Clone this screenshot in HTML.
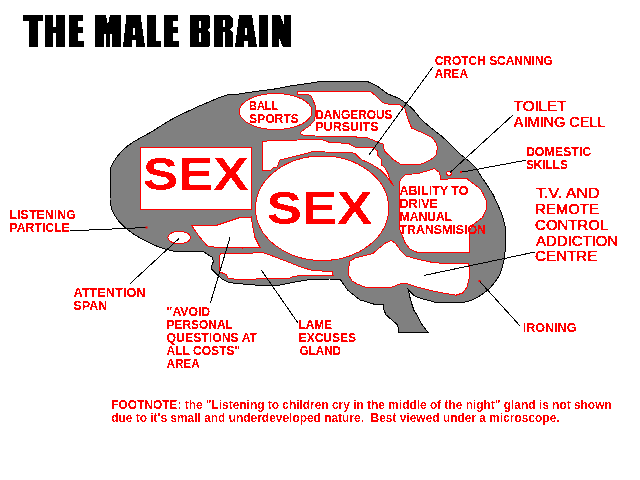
<!DOCTYPE html>
<html><head><meta charset="utf-8"><title>The Male Brain</title>
<style>
html,body{margin:0;padding:0;background:#fff;width:640px;height:480px;overflow:hidden}
svg{display:block}
.b{font-family:"Liberation Sans",sans-serif;font-weight:bold;fill:#f00}
.s{font-family:"Liberation Sans",sans-serif;font-weight:bold;fill:#f00;stroke:#f00;stroke-width:0.12px}
.r{font-family:"Liberation Sans",sans-serif;font-weight:normal;fill:#f00;stroke:#f00;stroke-width:0.45px}
</style></head><body>
<svg width="640" height="480" viewBox="0 0 640 480">
<rect width="640" height="480" fill="#fff"/>
<!-- TITLE -->
<g fill="#000" shape-rendering="crispEdges">
<!-- T -->
<polygon points="23,15 43,15 43,21 38,21 38,47 29,47 29,21 23,21"/>
<!-- H -->
<polygon points="45,15 53,15 53,27 56,27 56,15 65,15 65,47 56,47 56,33 53,33 53,47 45,47"/>
<!-- E -->
<polygon points="69,15 83,15 83,21 77.5,21 77.5,27 83,27 83,33 77.5,33 77.5,41 84,41 84,47 69,47"/>
<!-- M -->
<polygon points="95,15 106,15 108,25 110,15 121,15 121,47 112,47 112,34 110,34 110,47 106,47 106,34 104,34 104,47 95,47"/>
<!-- A -->
<polygon points="126.5,15 140.5,15 145,47 136,47 136,40 132,40 132,47 123,47"/>
<polygon fill="#fff" points="133,28 135,28 135,35 133,35"/>
<!-- L -->
<polygon points="147,15 156,15 156,41 161,41 161,47 147,47"/>
<!-- E -->
<polygon points="164,15 178,15 178,21 172.5,21 172.5,27 178,27 178,33 172.5,33 172.5,41 179,41 179,47 164,47"/>
<!-- B -->
<polygon points="190,15 208,15 210,17 210,27 207,30 210,33 210,45 208,47 190,47"/>
<polygon fill="#fff" points="199,20.5 201,20.5 201,28 199,28"/>
<polygon fill="#fff" points="199,32.5 201,32.5 201,42 199,42"/>
<!-- R -->
<polygon points="214,15 229,15 233,18.5 233,27 230,29.5 233,32.5 233,47 225,47 225,31.7 223,31.7 223,47 214,47"/>
<polygon fill="#fff" points="223,20 225,20 225,27 223,27"/>
<!-- A -->
<polygon points="239,15 252,15 257,47 248,47 248,41 244,41 244,47 235,47"/>
<polygon fill="#fff" points="245,28 247,28 247,35 245,35"/>
<!-- I -->
<polygon points="259,15 268,15 268,47 259,47"/>
<!-- N -->
<polygon points="272,15 280,15 284,25 284,15 291,15 291,47 283,47 279,38 279,47 272,47"/>
</g>

<!-- BRAIN -->
<polygon fill="#808080" stroke="#000" stroke-width="1" shape-rendering="crispEdges" points="110,200 110.5,168.1 113.75,161.6 117.5,156 122.5,150.6 127.5,146 133.4,141.9 143,136.5 153.1,131 161,125.8 170.6,120 179,115.5 188.1,111.25 197,107 207.8,102.5 218,98 229.7,94.2 236,94.4 254.75,91.6 273.5,89.2 290,86 317.5,82 340,81 366,81 371,83 376,85.5 380,88 387.5,93.75 399,98.4 406.9,103.9 413.1,109.4 419.4,117.2 425.6,123.4 433.4,129.7 441.25,135.9 450,143.75 461.25,155 470,162 476.25,168 480.6,175.6 487,185 493,194.4 498,205 502.5,216 505,226 505.6,235 505.6,247.5 504,260 502,268 499.4,275.6 495,282 490,288 484,293 477.5,297.5 471,300.5 465,302 449.4,302 435,302.2 426.5,299.9 418.5,297.6 413.9,295.3 408.2,289.6 409.4,295.3 411.6,303.3 413.9,310.2 417.4,315.9 420.8,322.8 427.7,332 398.5,332 397.9,325.6 394.5,322.2 389.9,318.2 385.9,314.8 383.6,309 383,304.5 375,304.5 366.25,301.7 360,300 355,296 347.5,290 340,279 330,279 310,279.5 292.5,282.5 280,285 255,285 235,283.3 228.3,282.1 222.5,279.2 218.3,275.8 215,272.5 211.7,269.2 211.7,265.8 213.3,261.7 212.5,257.5 205.8,253.3 203.3,251.5 198.75,251.5 183.75,251.6 172.5,251 165,249.1 153.75,245 142.5,239.4 133.1,233.75 125.6,228.1 119,221.6 114.4,215 111.6,209.4"/>

<g fill="#fff" stroke="#f00" stroke-width="1" shape-rendering="crispEdges">
<!-- ball sports -->
<ellipse cx="275.7" cy="111.5" rx="36.3" ry="18"/>
<!-- dangerous pursuits -->
<polygon points="297.4,91 370,91 376,96 382.5,102.5 390,104.5 400,105 405,109 407.5,117.5 411.6,128.1 422.5,132.8 431.9,137.5 436.6,143.75 437.5,148 436,155 431.9,158.75 425.3,162.5 419.7,164.4 401,164.4 393.4,159.7 388.75,155 384.4,151 383.3,144.2 378.7,142.5 366,137.3 350,136.8 315,136 305.8,135.4 301.3,134.8 300.6,132.2 303.9,129.6 309.7,125.7 314.2,120.6 315.5,115.4 315.5,106.4 313.5,101.2 311,96 307.7,94.1 297.4,94.1"/>
<!-- strip -->
<polygon points="262,141.25 278.4,140.5 309.7,139.7 322.2,139.7 328.4,142 348.75,143.6 354.6,147 373,147.6 377.5,151 378,155.6 381,159.1 381,164.8 384.4,167.1 387.8,172.8 390,179.7 393.6,186 386.7,176.3 379.8,169.4 370.6,163.7 361.5,159.7 354.6,153.3 350,152.2 311.25,151.9 308,153 298.75,155.3 286.25,158.4 280,160 278.4,163.9 276.9,167 273,167.8 270.6,170.2 262,170.2"/>
<!-- sex circle -->
<ellipse cx="322.1" cy="208.25" rx="66.6" ry="52.25"/>
<!-- sex box -->
<rect x="140.5" y="147.5" width="111" height="62"/>
<!-- ability -->
<polygon points="399,183.1 401.4,178.4 404.7,175.2 408.4,174.2 417.8,173.75 425.3,171.4 431.9,169.5 434.7,168.6 436.1,170 439.4,172.3 440.3,175.6 440.8,179.4 448,179 466.9,178.4 468.75,180.3 472.5,183 480,188.75 482.5,192.5 486,200 486,210 482.5,217.5 472.5,225 469,232.5 469,252.5 455,252.5 430,252.5 417.5,252.5 410,249 405,242.5 400,230 399,212.5"/>
<!-- attention -->
<ellipse cx="179.25" cy="237.5" rx="11.25" ry="6.25"/>
<!-- avoid -->
<polygon points="191.25,225 217.5,225 232.5,220 240,217.5 251.25,217 252.5,225 255,237.5 260,247.5 242.5,248 217.5,247.5 207.5,246 200,237.5 193.75,228.75"/>
<!-- lame -->
<polygon points="219.2,255.8 220.8,253.75 223.3,253.3 263.3,252.9 270.3,255.2 279.7,258.75 289,262.3 300.8,267 312.5,270.5 332.4,271.6 333.1,275.2 300.8,275.6 293.75,276.3 289,278.7 235,279.2 228.3,278.3 226.7,275 223.3,273.3 219.2,271.7"/>
<!-- tv -->
<polygon points="348.75,267.8 349.8,261.25 355.3,258 364,255.8 372.8,253.6 380.5,247 386,242.7 391.4,240.5 395.8,243.75 401.25,251.4 405.6,255.8 416.6,259 431.9,262.3 442.8,263.4 468,263.4 469,265.6 469,278.75 466.9,287.5 462.5,293 456,295.2 442.8,293 431.9,290.8 418.75,287.5 412.2,285.3 405.6,283.1 399,284.2 392.5,287 383.75,288 366.25,287.5 357.5,284.2 352,281 348.75,275.5"/>
<!-- domestic -->
<circle cx="449" cy="173.3" r="2.3"/>
</g>

<!-- pointer lines -->
<g stroke="#000" stroke-width="1" fill="none" shape-rendering="crispEdges">
<line x1="432.5" y1="67.5" x2="369" y2="155"/>
<line x1="513" y1="115" x2="450" y2="172.5"/>
<line x1="525.6" y1="160.3" x2="460.8" y2="172.3"/>
<polyline points="70,230 88.75,230 146.5,227.5"/>
<line x1="130" y1="283.75" x2="178.75" y2="238.75"/>
<line x1="210.25" y1="303.4" x2="230" y2="237.5"/>
<line x1="298" y1="323" x2="261.25" y2="270"/>
<line x1="535" y1="252" x2="423.75" y2="275.5"/>
<line x1="519.7" y1="325.6" x2="479.4" y2="281"/>
</g>
<g fill="#f00">
<rect x="145.5" y="226.5" width="2" height="2"/>
<rect x="460" y="171" width="2" height="2"/>
<rect x="478.5" y="280" width="2" height="2"/>
</g>

<!-- TEXT -->
<defs><filter id="cr" x="0" y="0" width="640" height="480" filterUnits="userSpaceOnUse"><feComponentTransfer><feFuncA type="discrete" tableValues="0 1"/></feComponentTransfer></filter></defs>
<g filter="url(#cr)">
<text class="b" font-size="47" x="143.00" y="190.00" textLength="105.50" lengthAdjust="spacingAndGlyphs">SEX</text>
<text class="b" font-size="47" x="266.75" y="224.00" textLength="105.50" lengthAdjust="spacingAndGlyphs">SEX</text>
<text class="s" font-size="12.5" x="249.00" y="110.00" textLength="29.20" lengthAdjust="spacingAndGlyphs">BALL</text>
<text class="s" font-size="12.5" x="249.00" y="122.60" textLength="49.90" lengthAdjust="spacingAndGlyphs">SPORTS</text>
<text class="s" font-size="12.5" x="315.25" y="118.75" textLength="77.25" lengthAdjust="spacingAndGlyphs">DANGEROUS</text>
<text class="s" font-size="12.5" x="315.25" y="131.25" textLength="63.25" lengthAdjust="spacingAndGlyphs">PURSUITS</text>
<text class="s" font-size="12.5" x="434.70" y="65.00" textLength="118.20" lengthAdjust="spacingAndGlyphs">CROTCH SCANNING</text>
<text class="s" font-size="12.5" x="434.70" y="77.50" textLength="33.20" lengthAdjust="spacingAndGlyphs">AREA</text>
<text class="s" font-size="12.5" x="525.90" y="156.25" textLength="65.40" lengthAdjust="spacingAndGlyphs">DOMESTIC</text>
<text class="s" font-size="12.5" x="525.90" y="169.00" textLength="42.00" lengthAdjust="spacingAndGlyphs">SKILLS</text>
<text class="s" font-size="12.5" x="399.50" y="195.00" textLength="69.00" lengthAdjust="spacingAndGlyphs">ABILITY TO</text>
<text class="s" font-size="12.5" x="399.50" y="208.00" textLength="38.50" lengthAdjust="spacingAndGlyphs">DRIVE</text>
<text class="s" font-size="12.5" x="399.50" y="220.75" textLength="52.75" lengthAdjust="spacingAndGlyphs">MANUAL</text>
<text class="s" font-size="12.5" x="399.50" y="233.50" textLength="86.50" lengthAdjust="spacingAndGlyphs">TRANSMISION</text>
<text class="s" font-size="12.5" x="9.50" y="218.75" textLength="66.50" lengthAdjust="spacingAndGlyphs">LISTENING</text>
<text class="s" font-size="12.5" x="9.50" y="231.75" textLength="60.25" lengthAdjust="spacingAndGlyphs">PARTICLE</text>
<text class="s" font-size="12.5" x="73.50" y="296.75" textLength="72.00" lengthAdjust="spacingAndGlyphs">ATTENTION</text>
<text class="s" font-size="12.5" x="73.50" y="310.00" textLength="33.75" lengthAdjust="spacingAndGlyphs">SPAN</text>
<text class="s" font-size="12.5" x="166.60" y="315.60" textLength="43.50" lengthAdjust="spacingAndGlyphs">&quot;AVOID</text>
<text class="s" font-size="12.5" x="166.60" y="328.75" textLength="66.20" lengthAdjust="spacingAndGlyphs">PERSONAL</text>
<text class="s" font-size="12.5" x="166.60" y="341.90" textLength="90.50" lengthAdjust="spacingAndGlyphs">QUESTIONS AT</text>
<text class="s" font-size="12.5" x="166.60" y="354.60" textLength="73.50" lengthAdjust="spacingAndGlyphs">ALL COSTS&quot;</text>
<text class="s" font-size="12.5" x="166.60" y="367.75" textLength="33.20" lengthAdjust="spacingAndGlyphs">AREA</text>
<text class="s" font-size="12.5" x="298.70" y="328.50" textLength="33.30" lengthAdjust="spacingAndGlyphs">LAME</text>
<text class="s" font-size="12.5" x="298.70" y="341.60" textLength="57.30" lengthAdjust="spacingAndGlyphs">EXCUSES</text>
<text class="s" font-size="12.5" x="299.70" y="354.75" textLength="41.30" lengthAdjust="spacingAndGlyphs">GLAND</text>
<text class="s" font-size="12.5" x="522.80" y="331.60" textLength="53.60" lengthAdjust="spacingAndGlyphs">IRONING</text>
<text class="r" font-size="14.5" x="513.75" y="111.25" textLength="52.50" lengthAdjust="spacingAndGlyphs">TOILET</text>
<text class="r" font-size="14.5" x="513.75" y="126.90" textLength="91.80" lengthAdjust="spacingAndGlyphs">AIMING CELL</text>
<text class="r" font-size="14.5" x="536.10" y="198.00" textLength="63.40" lengthAdjust="spacingAndGlyphs">T.V. AND</text>
<text class="r" font-size="14.5" x="535.10" y="213.75" textLength="63.80" lengthAdjust="spacingAndGlyphs">REMOTE</text>
<text class="r" font-size="14.5" x="535.10" y="229.70" textLength="73.20" lengthAdjust="spacingAndGlyphs">CONTROL</text>
<text class="r" font-size="14.5" x="536.10" y="245.90" textLength="81.90" lengthAdjust="spacingAndGlyphs">ADDICTION</text>
<text class="r" font-size="14.5" x="535.10" y="261.40" textLength="62.30" lengthAdjust="spacingAndGlyphs">CENTRE</text>
<text class="b" font-size="12" x="111.20" y="408.60" textLength="500.50" lengthAdjust="spacingAndGlyphs">FOOTNOTE: the &quot;Listening to children cry in the middle of the night&quot; gland is not shown</text>
<text class="b" font-size="12" x="111.20" y="422.30" textLength="448.40" lengthAdjust="spacingAndGlyphs">due to it's small and underdeveloped nature.  Best viewed under a microscope.</text>
</g>
</svg>
</body></html>
